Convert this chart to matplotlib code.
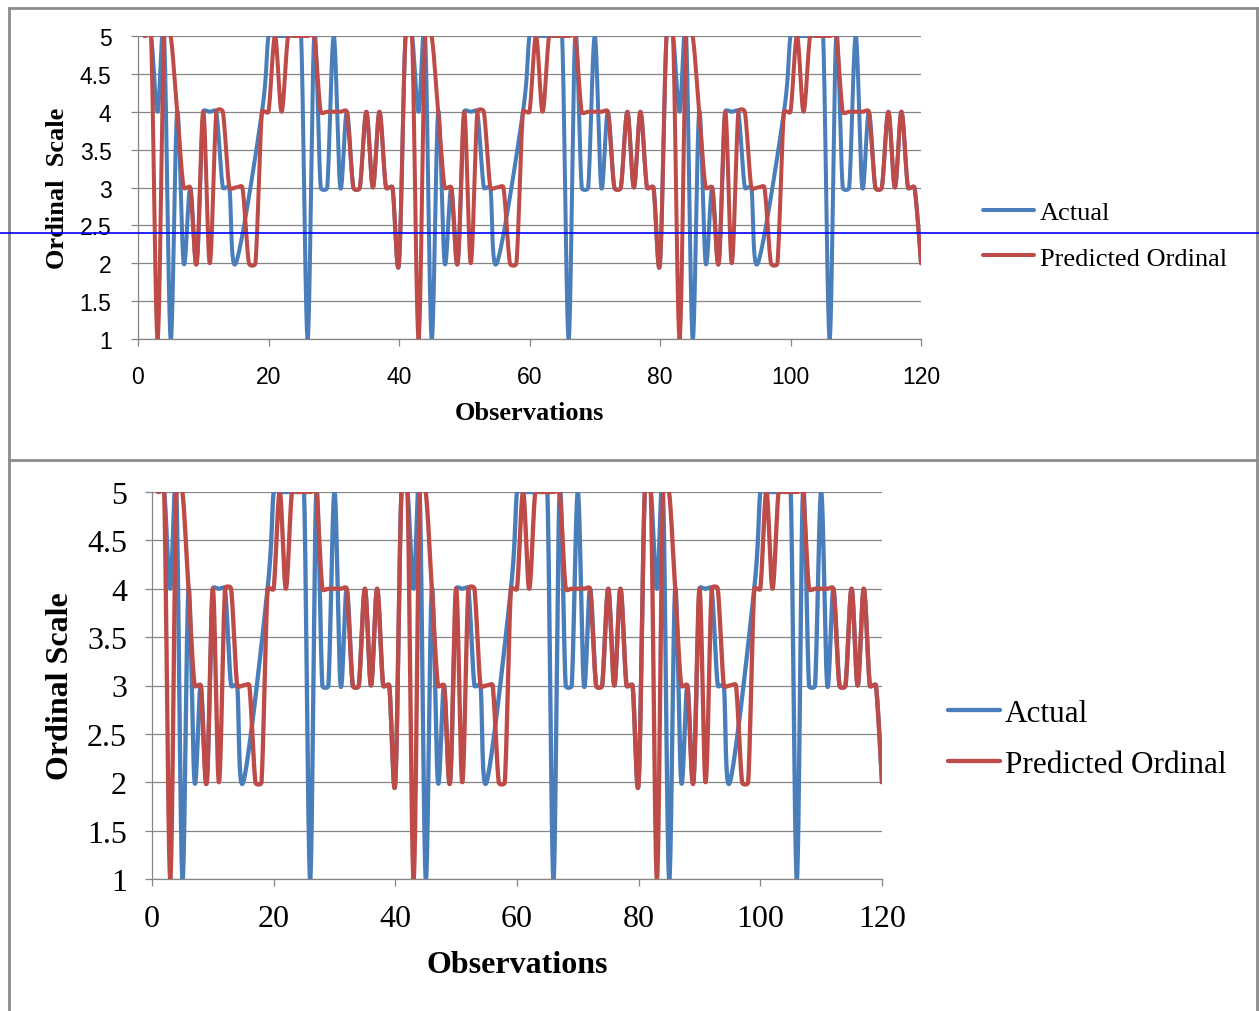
import numpy as np
import matplotlib
matplotlib.use("Agg")
import matplotlib.pyplot as plt
from matplotlib.lines import Line2D

# ---- data -------------------------------------------------------------
observations = list(range(1, 121))

# None marks an empty cell; the line is carried across it
actual = [
    5, 5, 4, 5, 1, 4, 2, 3, 2, 4, 4, 4, 3, 3, 2, None, None, None, 4, 5,
    5, 5, 5, 5, 5, 1, 5, 3, 3, 5, 3, 4, 3, 3, 4, 3, 4, 3, 3, 2,
    5, 5, 4, 5, 1, 4, 2, 3, 2, 4, 4, 4, 3, 3, 2, None, None, None, 4, 5,
    5, 5, 5, 5, 5, 1, 5, 3, 3, 5, 3, 4, 3, 3, 4, 3, 4, 3, 3, 2,
    5, 5, 4, 5, 1, 4, 2, 3, 2, 4, 4, 4, 3, 3, 2, None, None, None, 4, 5,
    5, 5, 5, 5, 5, 1, 5, 3, 3, 5, 3, 4, 3, 3, 4, 3, 4, 3, 3, 2,
]

predicted = [
    5, 5, 1, 5, 5, 4, 3, 3, 2, 4, 2, 4, 4, 3, 3, 3, 2, 2, 4, 4,
    5, 4, 5, 5, 5, 5, 5, 4, 4, 4, 4, 4, 3, 3, 4, 3, 4, 3, 3, 2,
    5, 5, 1, 5, 5, 4, 3, 3, 2, 4, 2, 4, 4, 3, 3, 3, 2, 2, 4, 4,
    5, 4, 5, 5, 5, 5, 5, 4, 4, 4, 4, 4, 3, 3, 4, 3, 4, 3, 3, 2,
    5, 5, 1, 5, 5, 4, 3, 3, 2, 4, 2, 4, 4, 3, 3, 3, 2, 2, 4, 4,
    5, 4, 5, 5, 5, 5, 5, 4, 4, 4, 4, 4, 3, 3, 4, 3, 4, 3, 3, 2,
]

series_names = ["Actual", "Predicted Ordinal"]
x_ticks = [0, 20, 40, 60, 80, 100, 120]
y_ticks = [1, 1.5, 2, 2.5, 3, 3.5, 4, 4.5, 5]
y_tick_labels = ["1", "1.5", "2", "2.5", "3", "3.5", "4", "4.5", "5"]

BLUE = "#4A7EBB"
RED = "#BE4B48"
GRID = "#868686"
FRAME = "#8C8C8C"

W, H = 1259, 1012
DPI = 100


def smooth_curve(x, y, sx, sy, steps=24):
    """Smoothed line through the non-empty points, built from cubic Bezier
    segments. Control points follow the neighbouring points (1/6 rule) but
    are kept within half of the segment length, measured in screen pixels
    (sx, sy = pixels per data unit)."""
    pts = [(a, b) for a, b in zip(x, y) if b is not None]
    P = np.array(pts, float) * np.array([sx, sy])
    n = len(P)
    t = np.linspace(0.0, 1.0, steps, endpoint=False)[:, None]
    pieces = []
    for k in range(n - 1):
        p1, p2 = P[k], P[k + 1]
        p0 = P[k - 1] if k > 0 else p1
        p3 = P[k + 2] if k + 2 < n else p2
        d12 = np.hypot(*(p2 - p1))
        d02 = np.hypot(*(p2 - p0))
        d13 = np.hypot(*(p3 - p1))
        f0 = min(1 / 6, d12 / (2 * d02)) if d02 > 0 else 0.0
        f1 = min(1 / 6, d12 / (2 * d13)) if d13 > 0 else 0.0
        c1 = p1 + (p2 - p0) * f0
        c2 = p2 - (p3 - p1) * f1
        b = ((1 - t) ** 3) * p1 + 3 * ((1 - t) ** 2) * t * c1 \
            + 3 * (1 - t) * t ** 2 * c2 + t ** 3 * p2
        pieces.append(b)
    pieces.append(P[-1:])
    C = np.vstack(pieces)
    return C[:, 0] / sx, C[:, 1] / sy


def px_box(left, right, top, bottom):
    """Axes rectangle in figure fractions from pixel edges."""
    return [left / W, 1 - bottom / H, (right - left) / W, (bottom - top) / H]


fig = plt.figure(figsize=(W / DPI, H / DPI), dpi=DPI)
fig.patch.set_facecolor("white")

panels = [
    dict(px=(138, 921, 37, 340), tick_font="Liberation Sans", tick_size=16.5,
         label_size=19, legend_size=19, lw=2.9, xpad=14, ypad=14,
         xlabel_xy=(0.5, -0.243), ylabel_xy=(-0.103, 0.50),
         legend_anchor=(983 / W, 1 - 236 / H), legend_spacing=0.85,
         handlelength=1.95, handletextpad=0.2,
         ylabel="Ordinal  Scale"),
    dict(px=(152, 882, 493, 880), tick_font="Liberation Serif", tick_size=23,
         label_size=23, legend_size=22.5, lw=3.1, xpad=13, ypad=13,
         xlabel_xy=(0.5, -0.22), ylabel_xy=(-0.126, 0.50),
         legend_anchor=(948 / W, 1 - 740 / H), legend_spacing=0.72,
         handlelength=1.66, handletextpad=0.16,
         ylabel="Ordinal Scale"),
]

for p in panels:
    left, right, top, bottom = p["px"]
    ax = fig.add_axes(px_box(left, right, top, bottom))
    sx = (right - left) / 120.0
    sy = (bottom - top) / 4.0

    xs, ys = smooth_curve(observations, actual, sx, sy)
    ax.plot(xs, ys, color=BLUE, lw=p["lw"], solid_capstyle="round",
            solid_joinstyle="round", label=series_names[0], zorder=3)
    xs, ys = smooth_curve(observations, predicted, sx, sy)
    ax.plot(xs, ys, color=RED, lw=p["lw"], solid_capstyle="round",
            solid_joinstyle="round", label=series_names[1], zorder=4)

    ax.set_xlim(0, 120)
    ax.set_ylim(1, 5)
    ax.set_xticks(x_ticks)
    ax.set_yticks(y_ticks)
    ax.set_yticklabels(y_tick_labels)
    ax.yaxis.grid(True, color=GRID, lw=0.9)
    ax.set_axisbelow(True)
    for side in ("top", "right"):
        ax.spines[side].set_visible(False)
    for side in ("left", "bottom"):
        ax.spines[side].set_color(GRID)
        ax.spines[side].set_linewidth(0.9)
    ax.tick_params(axis="both", colors=GRID, length=5, width=0.9,
                   labelcolor="black")
    ax.tick_params(axis="x", pad=p["xpad"])
    ax.tick_params(axis="y", pad=p["ypad"])
    for lab in ax.get_xticklabels() + ax.get_yticklabels():
        lab.set_fontfamily(p["tick_font"])
        lab.set_fontsize(p["tick_size"])

    ax.set_xlabel("Observations", fontfamily="Liberation Serif",
                  fontweight="bold", fontsize=p["label_size"], va="center")
    ax.xaxis.set_label_coords(*p["xlabel_xy"])
    ax.set_ylabel(p["ylabel"], fontfamily="Liberation Serif",
                  fontweight="bold", fontsize=p["label_size"], va="center")
    ax.yaxis.set_label_coords(*p["ylabel_xy"])

    ax.legend(loc="center left", bbox_to_anchor=p["legend_anchor"],
              bbox_transform=fig.transFigure, frameon=False,
              prop=dict(family="Liberation Serif", size=p["legend_size"]),
              handlelength=p["handlelength"], handletextpad=p["handletextpad"],
              borderpad=0, borderaxespad=0, labelspacing=p["legend_spacing"])

# panel frames
frame_lw = 2.0
for x in (8.5 / W, 1256.5 / W):
    fig.add_artist(Line2D([x, x], [0, 1 - 8.5 / H], color=FRAME, lw=frame_lw))
for y in (1 - 8.5 / H, 1 - 460.5 / H):
    fig.add_artist(Line2D([8.5 / W, 1256.5 / W], [y, y], color=FRAME, lw=frame_lw))

# horizontal guide line across the upper chart
fig.add_artist(Line2D([0, 1], [1 - 234 / H, 1 - 234 / H], color="#0000FF",
                      lw=1.2, zorder=10))

fig.savefig("out.png", dpi=DPI, facecolor="white")
